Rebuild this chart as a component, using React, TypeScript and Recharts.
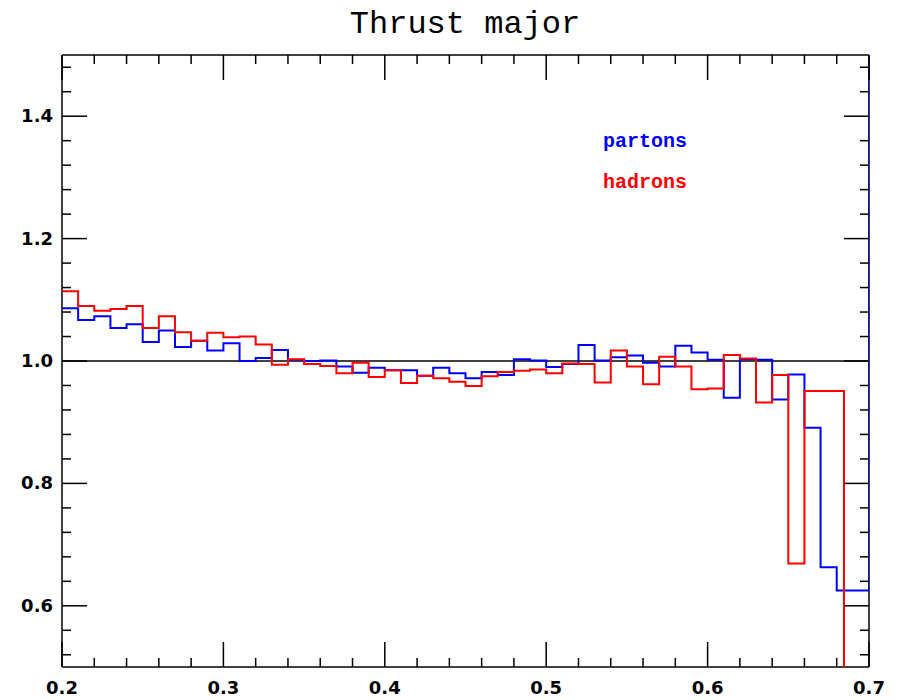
import { LineChart, Line, XAxis, YAxis, CartesianGrid, ReferenceLine } from "recharts";

// lower edge of each 0.01 bin
const BIN_LOW = [
  0.2, 0.21, 0.22, 0.23, 0.24, 0.25, 0.26, 0.27, 0.28, 0.29,
  0.3, 0.31, 0.32, 0.33, 0.34, 0.35, 0.36, 0.37, 0.38, 0.39,
  0.4, 0.41, 0.42, 0.43, 0.44, 0.45, 0.46, 0.47, 0.48, 0.49,
  0.5, 0.51, 0.52, 0.53, 0.54, 0.55, 0.56, 0.57, 0.58, 0.59,
  0.6, 0.61, 0.62, 0.63, 0.64, 0.65, 0.66, 0.67, 0.68, 0.69,
];

const PARTONS = [
  1.086, 1.067, 1.073, 1.054, 1.06, 1.031, 1.05, 1.023, 1.033, 1.017,
  1.029, 1.0, 1.005, 1.018, 1.002, 1.0, 1.001, 0.991, 0.981, 0.989,
  0.985, 0.985, 0.976, 0.989, 0.98, 0.972, 0.982, 0.977, 1.003, 1.001,
  0.99, 0.995, 1.026, 1.001, 1.006, 1.009, 0.997, 0.991, 1.025, 1.014,
  1.002, 0.94, 1.003, 1.002, 0.937, 0.978, 0.891, 0.663, 0.625, 0.625,
];

const HADRONS = [
  1.114, 1.09, 1.082, 1.085, 1.09, 1.054, 1.073, 1.047, 1.033, 1.046,
  1.039, 1.04, 1.027, 0.994, 1.003, 0.995, 0.992, 0.98, 0.997, 0.974,
  0.985, 0.964, 0.976, 0.972, 0.966, 0.959, 0.975, 0.982, 0.984, 0.986,
  0.98, 0.996, 0.995, 0.965, 1.017, 0.991, 0.962, 1.007, 0.991, 0.954,
  0.955, 1.01, 1.004, 0.932, 0.977, 0.669, 0.951, 0.951, 0.951,
];

// where each histogram runs off the frame
const PARTONS_END = { x: 0.7, v: 2.5 };
const HADRONS_END = { x: 0.6845, v: 0.0 };

const X_TICKS = [
  0.2, 0.22, 0.24, 0.26, 0.28, 0.3, 0.32, 0.34, 0.36, 0.38, 0.4, 0.42, 0.44,
  0.46, 0.48, 0.5, 0.52, 0.54, 0.56, 0.58, 0.6, 0.62, 0.64, 0.66, 0.68, 0.7,
];
const Y_TICKS = [
  0.52, 0.56, 0.6, 0.64, 0.68, 0.72, 0.76, 0.8, 0.84, 0.88, 0.92, 0.96, 1.0,
  1.04, 1.08, 1.12, 1.16, 1.2, 1.24, 1.28, 1.32, 1.36, 1.4, 1.44, 1.48,
];

const partonsData = BIN_LOW.map((x, i) => ({ x, v: PARTONS[i] })).concat(PARTONS_END);
const hadronsData = HADRONS.map((v, i) => ({ x: BIN_LOW[i], v })).concat(HADRONS_END);

const W = 902;
const H = 700;
const TOP = 55;
const LEFT = 62;
const RIGHT = 869;
const BOTTOM = 667;
const MAJOR = 25;
const MINOR = 9;

const isMajor = (v: number, step: number) =>
  Math.abs(v / step - Math.round(v / step)) < 1e-6;

const labelFont = { fontFamily: "DejaVu Sans", fontWeight: 700, fontSize: 18 };

const XTick = ({ x, y, payload }: any) => {
  const major = isMajor(payload.value, 0.1);
  const len = major ? MAJOR : MINOR;
  return (
    <g>
      <line x1={x} x2={x} y1={y} y2={y - len} stroke="#000" strokeWidth={1.5} />
      <line x1={x} x2={x} y1={TOP} y2={TOP + len} stroke="#000" strokeWidth={1.5} />
      {major && (
        <text x={x} y={y + 27} textAnchor="middle" fill="#000" {...labelFont}>
          {payload.value.toFixed(1)}
        </text>
      )}
    </g>
  );
};

const YTick = ({ x, y, payload }: any) => {
  const major = isMajor(payload.value, 0.2);
  const len = major ? MAJOR : MINOR;
  return (
    <g>
      <line x1={x} x2={x + len} y1={y} y2={y} stroke="#000" strokeWidth={1.5} />
      <line x1={RIGHT} x2={RIGHT - len} y1={y} y2={y} stroke="#000" strokeWidth={1.5} />
      {major && (
        <text x={x - 9} y={y + 6} textAnchor="end" fill="#000" {...labelFont}>
          {payload.value.toFixed(1)}
        </text>
      )}
    </g>
  );
};

export default function App() {
  return (
    <div style={{ position: "absolute", left: 0, top: 0, width: W, height: H, background: "#fff" }}>
      <LineChart
        width={W}
        height={H}
        margin={{ top: TOP, right: W - RIGHT, bottom: 3, left: 12 }}
      >
        <CartesianGrid
          horizontalPoints={[TOP, BOTTOM]}
          verticalPoints={[LEFT, RIGHT]}
          stroke="#000"
          strokeWidth={1.5}
          strokeDasharray=""
        />
        <XAxis
          dataKey="x"
          type="number"
          domain={[0.2, 0.7]}
          allowDataOverflow
          ticks={X_TICKS}
          interval={0}
          height={30}
          tickSize={0}
          tickMargin={0}
          tickLine={false}
          axisLine={false}
          tick={<XTick />}
        />
        <YAxis
          type="number"
          domain={[0.5, 1.5]}
          allowDataOverflow
          ticks={Y_TICKS}
          interval={0}
          width={50}
          tickSize={0}
          tickMargin={0}
          tickLine={false}
          axisLine={false}
          tick={<YTick />}
        />
        <ReferenceLine y={1} stroke="#000" strokeWidth={1.5} />
        <Line
          data={partonsData}
          dataKey="v"
          type="stepAfter"
          stroke="#0000ff"
          strokeWidth={2}
          dot={false}
          activeDot={false}
          isAnimationActive={false}
        />
        <Line
          data={hadronsData}
          dataKey="v"
          type="stepAfter"
          stroke="#ff0000"
          strokeWidth={2}
          dot={false}
          activeDot={false}
          isAnimationActive={false}
        />
      </LineChart>
      <svg
        width={W}
        height={H}
        style={{ position: "absolute", left: 0, top: 0, pointerEvents: "none" }}
      >
        <text x={465} y={33} textAnchor="middle" fontFamily="Liberation Mono" fontSize={32} fill="#000">
          Thrust major
        </text>
        <text x={603} y={147} fontFamily="Liberation Mono" fontWeight={700} fontSize={20} fill="#0000ff">
          partons
        </text>
        <text x={603} y={188} fontFamily="Liberation Mono" fontWeight={700} fontSize={20} fill="#ff0000">
          hadrons
        </text>
      </svg>
    </div>
  );
}
